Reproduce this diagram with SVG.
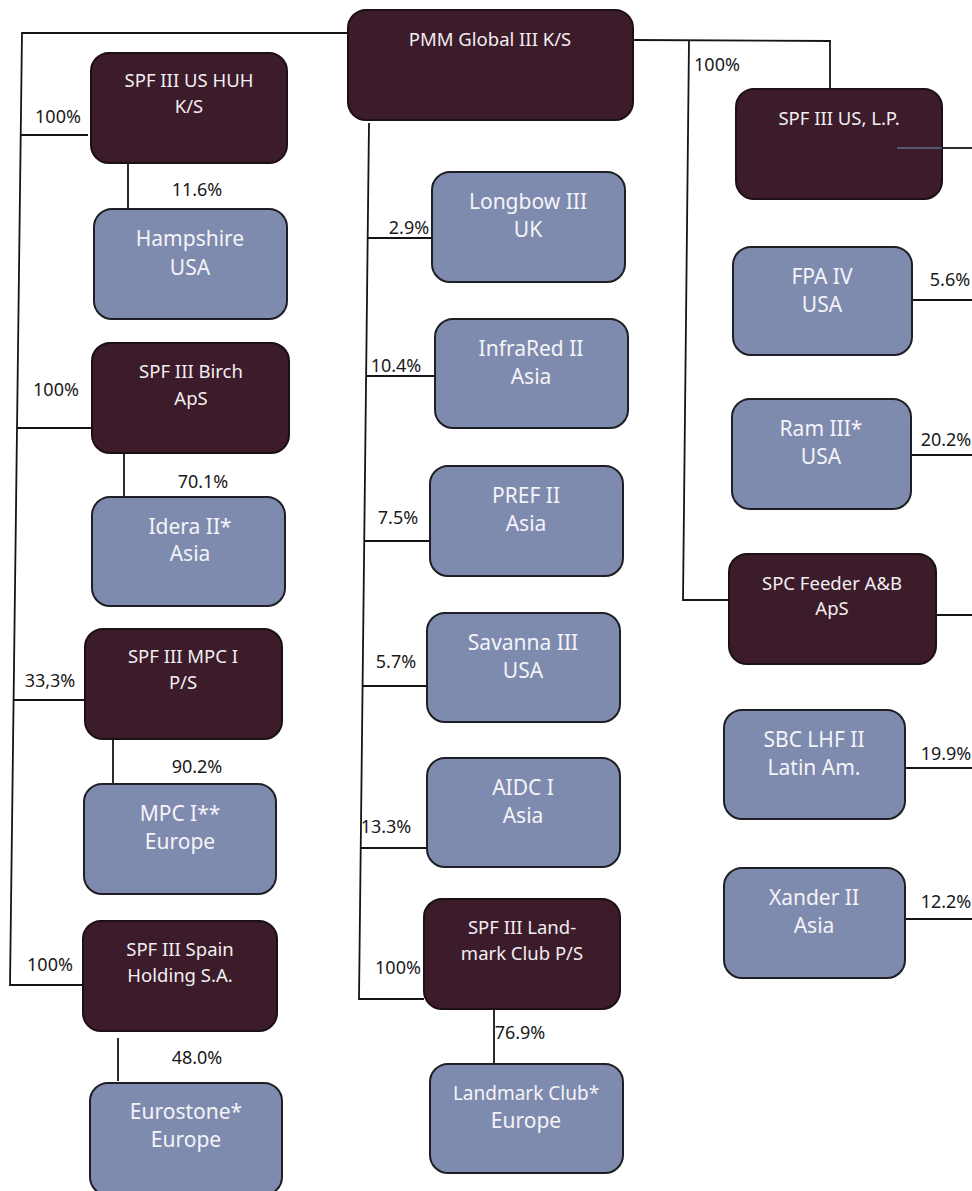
<svg xmlns="http://www.w3.org/2000/svg" width="972" height="1191" viewBox="0 0 972 1191">
<style>
.dk{fill:#3c1b2a;stroke:#1c1014;stroke-width:2}
.lt{fill:#7f8bae;stroke:#1e1e24;stroke-width:2}
.tw{font-family:"Noto Sans","DejaVu Sans",sans-serif;font-size:18.5px;fill:#f2eef0;text-anchor:middle}
.tl{font-family:"Noto Sans","DejaVu Sans",sans-serif;font-size:21px;fill:#f4f4f8;text-anchor:middle}
.pc{font-family:"Noto Sans","DejaVu Sans",sans-serif;font-size:18px;fill:#1a1a1a;text-anchor:middle}
.ln{fill:none;stroke:#151515;stroke-width:1.8}
</style>
<rect width="972" height="1191" fill="#ffffff"/>
<g id="connectors">
<path class="ln" d="M348 33 L22 33 L10 985 L83 985"/>
<path class="ln" d="M20.7 135 L88 135"/>
<path class="ln" d="M17 428 L91 428"/>
<path class="ln" d="M13.6 700 L84 700"/>
<path class="ln" d="M128 163 L128 209"/>
<path class="ln" d="M124 453 L124 497"/>
<path class="ln" d="M113 739 L113 784"/>
<path class="ln" d="M118 1038 L118 1081"/>
<path class="ln" d="M369 123 L359 999 L424 999"/>
<path class="ln" d="M367.7 238 L432 238"/>
<path class="ln" d="M366.1 376 L435 376"/>
<path class="ln" d="M364.2 541 L430 541"/>
<path class="ln" d="M362.6 686 L427 686"/>
<path class="ln" d="M360.7 848 L427 848"/>
<path class="ln" d="M494 1009 L494 1064"/>
<path class="ln" d="M633 40 L830 41 L830 89"/>
<path class="ln" d="M689 41 L683 600 L729 600"/>
<path class="ln" d="M942 148 L972 148"/>
<path class="ln" d="M911 300 L972 300"/>
<path class="ln" d="M911 455 L972 455"/>
<path class="ln" d="M936 615 L972 615"/>
<path class="ln" d="M905 768 L972 768"/>
<path class="ln" d="M905 919 L972 919"/>
</g>
<g id="pmm"><rect class="dk" x="348" y="10" width="285" height="110" rx="18"/><text class="tw" x="490" y="46">PMM Global III K/S</text></g>
<g id="huh"><rect class="dk" x="91" y="53" width="196" height="110" rx="18"/><text class="tw" x="189" y="87">SPF III US HUH</text><text class="tw" x="189" y="113">K/S</text></g>
<g id="hampshire"><rect class="lt" x="94" y="209" width="193" height="110" rx="18"/><text class="tl" x="190" y="246">Hampshire</text><text class="tl" x="190" y="275">USA</text></g>
<g id="birch"><rect class="dk" x="92" y="343" width="197" height="110" rx="18"/><text class="tw" x="191" y="378">SPF III Birch</text><text class="tw" x="191" y="405">ApS</text></g>
<g id="idera"><rect class="lt" x="92" y="497" width="193" height="109" rx="18"/><text class="tl" x="190" y="534">Idera II*</text><text class="tl" x="190" y="561">Asia</text></g>
<g id="mpcps"><rect class="dk" x="85" y="629" width="197" height="110" rx="18"/><text class="tw" x="183" y="663">SPF III MPC I</text><text class="tw" x="183" y="689">P/S</text></g>
<g id="mpc"><rect class="lt" x="84" y="784" width="192" height="110" rx="18"/><text class="tl" x="180" y="821">MPC I**</text><text class="tl" x="180" y="849">Europe</text></g>
<g id="spain"><rect class="dk" x="83" y="921" width="194" height="110" rx="18"/><text class="tw" x="180" y="956">SPF III Spain</text><text class="tw" x="180" y="982">Holding S.A.</text></g>
<g id="eurostone"><rect class="lt" x="90" y="1083" width="192" height="112" rx="18"/><text class="tl" x="186" y="1119">Eurostone*</text><text class="tl" x="186" y="1147">Europe</text></g>
<g id="longbow"><rect class="lt" x="432" y="172" width="193" height="110" rx="18"/><text class="tl" x="528" y="209">Longbow III</text><text class="tl" x="528" y="237">UK</text></g>
<g id="infrared"><rect class="lt" x="435" y="319" width="193" height="109" rx="18"/><text class="tl" x="531" y="356">InfraRed II</text><text class="tl" x="531" y="384">Asia</text></g>
<g id="pref"><rect class="lt" x="430" y="466" width="193" height="110" rx="18"/><text class="tl" x="526" y="503">PREF II</text><text class="tl" x="526" y="531">Asia</text></g>
<g id="savanna"><rect class="lt" x="427" y="613" width="193" height="109" rx="18"/><text class="tl" x="523" y="650">Savanna III</text><text class="tl" x="523" y="678">USA</text></g>
<g id="aidc"><rect class="lt" x="427" y="758" width="193" height="109" rx="18"/><text class="tl" x="523" y="795">AIDC I</text><text class="tl" x="523" y="823">Asia</text></g>
<g id="landmarkps"><rect class="dk" x="424" y="899" width="196" height="110" rx="18"/><text class="tw" x="522" y="934">SPF III Land-</text><text class="tw" x="522" y="960">mark Club P/S</text></g>
<g id="landmark"><rect class="lt" x="430" y="1064" width="193" height="109" rx="18"/><text class="tl" x="526" y="1100" style="font-size:19px">Landmark Club*</text><text class="tl" x="526" y="1128">Europe</text></g>
<g id="spfuslp"><rect class="dk" x="736" y="89" width="206" height="110" rx="18"/><text class="tw" x="839" y="125">SPF III US, L.P.</text><line x1="897" y1="148" x2="942" y2="148" stroke="#5d6f86" stroke-width="1.5"/></g>
<g id="fpa"><rect class="lt" x="733" y="247" width="179" height="108" rx="18"/><text class="tl" x="822" y="284">FPA IV</text><text class="tl" x="822" y="312">USA</text></g>
<g id="ram"><rect class="lt" x="732" y="399" width="179" height="110" rx="18"/><text class="tl" x="821" y="436">Ram III*</text><text class="tl" x="821" y="464">USA</text></g>
<g id="spcfeeder"><rect class="dk" x="729" y="554" width="207" height="110" rx="18"/><text class="tw" x="832" y="590">SPC Feeder A&amp;B</text><text class="tw" x="832" y="615">ApS</text></g>
<g id="sbc"><rect class="lt" x="724" y="710" width="181" height="109" rx="18"/><text class="tl" x="814" y="747">SBC LHF II</text><text class="tl" x="814" y="775">Latin Am.</text></g>
<g id="xander"><rect class="lt" x="724" y="868" width="181" height="110" rx="18"/><text class="tl" x="814" y="905">Xander II</text><text class="tl" x="814" y="933">Asia</text></g>
<g id="labels">
<text class="pc" x="58" y="123">100%</text>
<text class="pc" x="197" y="196">11.6%</text>
<text class="pc" x="56" y="396">100%</text>
<text class="pc" x="203" y="488">70.1%</text>
<text class="pc" x="50" y="687">33,3%</text>
<text class="pc" x="197" y="773">90.2%</text>
<text class="pc" x="50" y="971">100%</text>
<text class="pc" x="197" y="1064">48.0%</text>
<text class="pc" x="409" y="234">2.9%</text>
<text class="pc" x="396" y="372">10.4%</text>
<text class="pc" x="398" y="524">7.5%</text>
<text class="pc" x="396" y="668">5.7%</text>
<text class="pc" x="386" y="833">13.3%</text>
<text class="pc" x="398" y="974">100%</text>
<text class="pc" x="520" y="1039">76.9%</text>
<text class="pc" x="717" y="71">100%</text>
<text class="pc" x="950" y="286">5.6%</text>
<text class="pc" x="946" y="446">20.2%</text>
<text class="pc" x="946" y="760">19.9%</text>
<text class="pc" x="946" y="908">12.2%</text>
</g>
</svg>
